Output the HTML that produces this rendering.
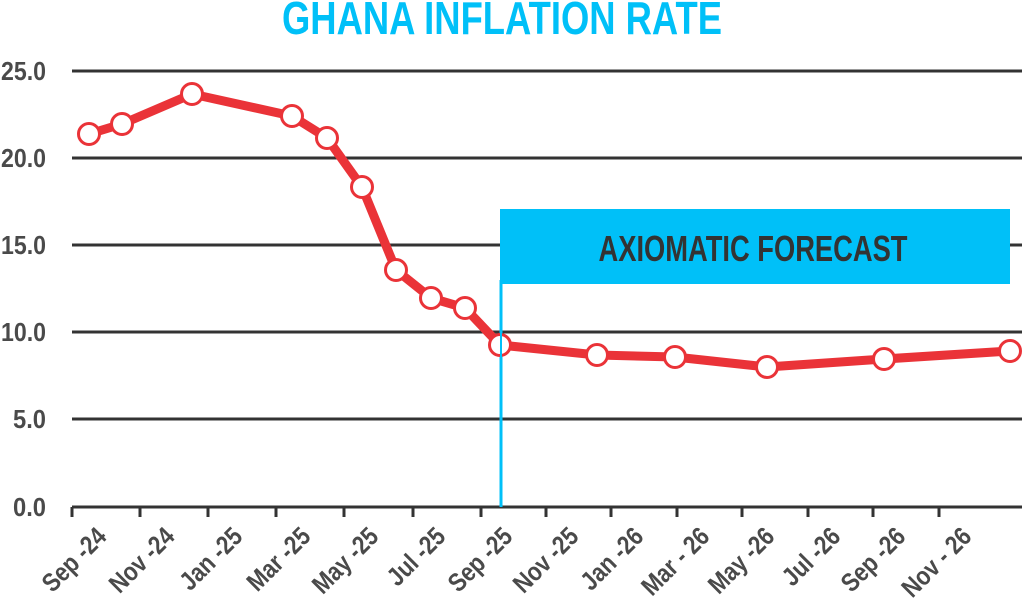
<!DOCTYPE html>
<html><head><meta charset="utf-8"><style>
html,body{margin:0;padding:0;background:#fff;}
svg{display:block;}
text{font-family:"Liberation Sans Narrow","Liberation Sans",sans-serif;font-weight:bold;}
</style></head><body>
<svg width="1024" height="609" viewBox="0 0 1024 609" xmlns="http://www.w3.org/2000/svg">
<text x="502" y="34" text-anchor="middle" font-size="46" fill="#00c0f8" textLength="440" lengthAdjust="spacingAndGlyphs">GHANA INFLATION RATE</text>
<g stroke="#333" stroke-width="3">
<line x1="72" y1="71" x2="1022" y2="71"/>
<line x1="72" y1="158" x2="1022" y2="158"/>
<line x1="72" y1="245" x2="1022" y2="245"/>
<line x1="72" y1="332" x2="1022" y2="332"/>
<line x1="72" y1="419" x2="1022" y2="419"/>
<line x1="72" y1="507" x2="1022" y2="507"/>
</g>
<g stroke="#333" stroke-width="3">
<line x1="72" y1="507" x2="72" y2="517"/><line x1="140" y1="507" x2="140" y2="517"/>
<line x1="208" y1="507" x2="208" y2="517"/><line x1="276" y1="507" x2="276" y2="517"/>
<line x1="344" y1="507" x2="344" y2="517"/><line x1="413" y1="507" x2="413" y2="517"/>
<line x1="481" y1="507" x2="481" y2="517"/><line x1="546" y1="507" x2="546" y2="517"/>
<line x1="611" y1="507" x2="611" y2="517"/><line x1="677" y1="507" x2="677" y2="517"/>
<line x1="742" y1="507" x2="742" y2="517"/><line x1="808" y1="507" x2="808" y2="517"/>
<line x1="873" y1="507" x2="873" y2="517"/><line x1="939" y1="507" x2="939" y2="517"/>
</g>
<g font-size="26" fill="#4a4a4a" text-anchor="end">
<text x="46" y="80" textLength="45" lengthAdjust="spacingAndGlyphs">25.0</text>
<text x="46" y="167" textLength="45" lengthAdjust="spacingAndGlyphs">20.0</text>
<text x="46" y="254" textLength="45" lengthAdjust="spacingAndGlyphs">15.0</text>
<text x="46" y="341" textLength="45" lengthAdjust="spacingAndGlyphs">10.0</text>
<text x="46" y="428" textLength="33" lengthAdjust="spacingAndGlyphs">5.0</text>
<text x="46" y="516" textLength="33" lengthAdjust="spacingAndGlyphs">0.0</text>
</g>
<g font-size="26" fill="#4a4a4a" text-anchor="end">
<text transform="translate(108,538) rotate(-45) scale(0.85,1)">Sep -24</text>
<text transform="translate(176,538) rotate(-45) scale(0.85,1)">Nov -24</text>
<text transform="translate(244,538) rotate(-45) scale(0.85,1)">Jan -25</text>
<text transform="translate(312,538) rotate(-45) scale(0.85,1)">Mar -25</text>
<text transform="translate(380,538) rotate(-45) scale(0.85,1)">May -25</text>
<text transform="translate(447,538) rotate(-45) scale(0.85,1)">Jul -25</text>
<text transform="translate(514,538) rotate(-45) scale(0.85,1)">Sep -25</text>
<text transform="translate(580,538) rotate(-45) scale(0.85,1)">Nov -25</text>
<text transform="translate(645,538) rotate(-45) scale(0.85,1)">Jan -26</text>
<text transform="translate(711,538) rotate(-45) scale(0.85,1)">Mar - 26</text>
<text transform="translate(776,538) rotate(-45) scale(0.85,1)">May -26</text>
<text transform="translate(842,538) rotate(-45) scale(0.85,1)">Jul -26</text>
<text transform="translate(907,538) rotate(-45) scale(0.85,1)">Sep -26</text>
<text transform="translate(973,538) rotate(-45) scale(0.85,1)">Nov - 26</text>
</g>
<rect x="500" y="209" width="510" height="75" fill="#00c0f8"/>
<line x1="501" y1="280" x2="501" y2="507" stroke="#00c0f8" stroke-width="3"/>
<text x="753" y="261" text-anchor="middle" font-size="36" fill="#333" textLength="309" lengthAdjust="spacingAndGlyphs">AXIOMATIC FORECAST</text>
<polyline fill="none" stroke="#ea3338" stroke-width="9" stroke-linejoin="round" points="89,134 122,124 192,94 292,116 327,138 362,187 396,270 431,298 465,308 500,345 597,355 675,357 767,367 884,359 1010,351"/>
<g fill="#fff" stroke="#ea3338" stroke-width="3">
<circle cx="89" cy="134" r="10.5"/><circle cx="122" cy="124" r="10.5"/><circle cx="192" cy="94" r="10.5"/>
<circle cx="292" cy="116" r="10.5"/><circle cx="327" cy="138" r="10.5"/><circle cx="362" cy="187" r="10.5"/>
<circle cx="396" cy="270" r="10.5"/><circle cx="431" cy="298" r="10.5"/><circle cx="465" cy="308" r="10.5"/>
<circle cx="500" cy="345" r="10.5"/><circle cx="597" cy="355" r="10.5"/><circle cx="675" cy="357" r="10.5"/>
<circle cx="767" cy="367" r="10.5"/><circle cx="884" cy="359" r="10.5"/><circle cx="1010" cy="351" r="10.5"/>
</g>
<line x1="501" y1="330" x2="501" y2="360" stroke="#00c0f8" stroke-width="2"/>
</svg>
</body></html>
